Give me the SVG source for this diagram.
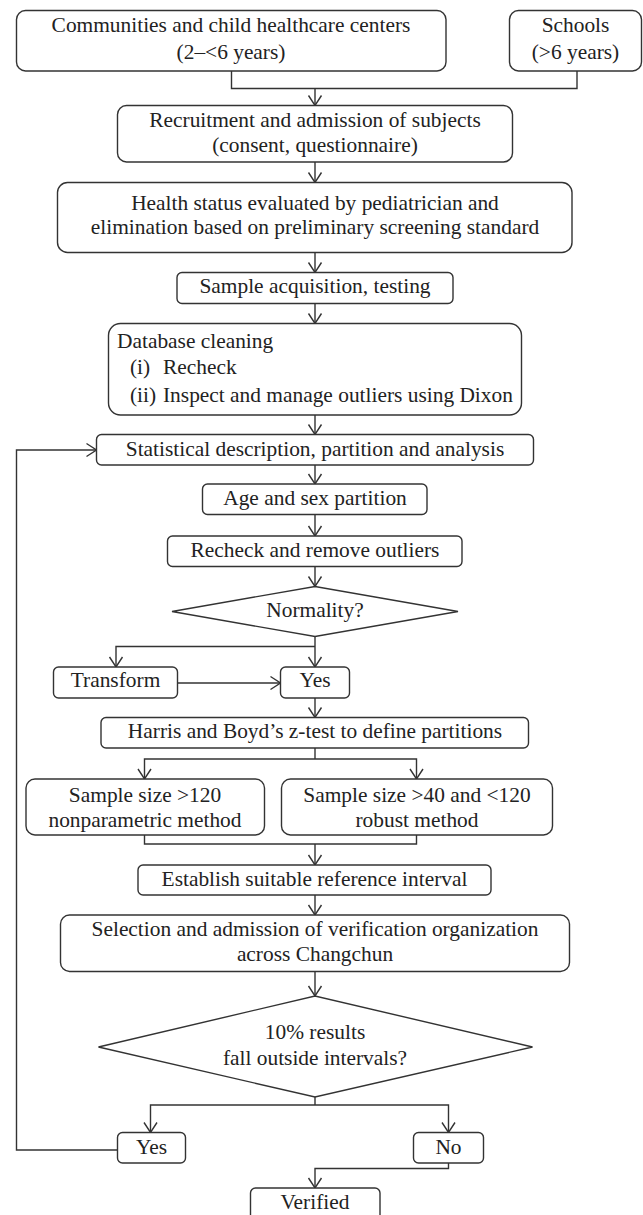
<svg xmlns="http://www.w3.org/2000/svg" width="643" height="1215" viewBox="0 0 643 1215">
<style>
  .box { fill: #ffffff; stroke: #333333; stroke-width: 1.4; }
  .ln { fill: none; stroke: #333333; stroke-width: 1.4; }
  .arr { marker-end: url(#ah); }
  text { font-family: "Liberation Serif", "Times New Roman", serif; font-size: 21.4px; fill: #222222; }
  .c { text-anchor: middle; }
</style>
<defs>
  <marker id="ah" markerUnits="userSpaceOnUse" markerWidth="14" markerHeight="16" viewBox="-11 -8 12 16" refX="0" refY="0" orient="auto" overflow="visible">
    <path d="M-10,-6.5 L0,0 L-10,6.5" fill="none" stroke="#333333" stroke-width="1.4"/>
  </marker>
</defs>
<rect width="643" height="1215" fill="#ffffff"/>

<g id="connectors">
  <path class="ln" d="M231.5,71 V88.5 H577 V71"/>
  <path class="ln arr" d="M315,88.5 V105.5"/>
  <path class="ln arr" d="M315,162 V182.5"/>
  <path class="ln arr" d="M315,252.5 V272.5"/>
  <path class="ln arr" d="M315,303.5 V323.5"/>
  <path class="ln arr" d="M315,415 V434.5"/>
  <path class="ln arr" d="M315,465 V484"/>
  <path class="ln arr" d="M315,514.5 V536"/>
  <path class="ln arr" d="M315,566.5 V586.5"/>
  <path class="ln arr" d="M315,636.5 V667"/>
  <path class="ln arr" d="M315,646.5 H116 V667"/>
  <path class="ln arr" d="M177.5,683 H280.5"/>
  <path class="ln arr" d="M315,698 V717.5"/>
  <path class="ln" d="M315,748 V759"/>
  <path class="ln arr" d="M315,759 H144.5 V779"/>
  <path class="ln arr" d="M315,759 H416.5 V779"/>
  <path class="ln" d="M144.5,835 V844 H416.5 V835"/>
  <path class="ln arr" d="M315,844 V865"/>
  <path class="ln arr" d="M315,895 V915"/>
  <path class="ln arr" d="M315,971.5 V996"/>
  <path class="ln" d="M315,1097 V1105"/>
  <path class="ln arr" d="M315,1105 H150.5 V1132.5"/>
  <path class="ln arr" d="M315,1105 H448.5 V1132.5"/>
  <path class="ln arr" d="M117.5,1150 H16.5 V450 H96.5"/>
  <path class="ln arr" d="M448.5,1163 V1168.5 H315 V1188"/>
</g>

<g id="n1">
  <rect class="box" x="16.5" y="10.5" width="429.5" height="60.5" rx="9"/>
  <text class="c" x="231" y="32">Communities and child healthcare centers</text>
  <text class="c" x="231" y="58.5">(2–&lt;6 years)</text>
</g>
<g id="n2">
  <rect class="box" x="509.5" y="10.5" width="132" height="60.5" rx="9"/>
  <text class="c" x="575.5" y="32">Schools</text>
  <text class="c" x="575.5" y="58.5">(&gt;6 years)</text>
</g>
<g id="n3">
  <rect class="box" x="117.5" y="105.5" width="395" height="56.5" rx="9"/>
  <text class="c" x="315" y="127">Recruitment and admission of subjects</text>
  <text class="c" x="315" y="152">(consent, questionnaire)</text>
</g>
<g id="n4">
  <rect class="box" x="57.5" y="182.5" width="514.5" height="70" rx="10"/>
  <text class="c" x="315" y="210">Health status evaluated by pediatrician and</text>
  <text class="c" x="315" y="234">elimination based on preliminary screening standard</text>
</g>
<g id="n5">
  <rect class="box" x="177" y="272.5" width="276" height="31" rx="5"/>
  <text class="c" x="315" y="293">Sample acquisition, testing</text>
</g>
<g id="n6">
  <rect class="box" x="108.5" y="323.5" width="413" height="91.5" rx="12"/>
  <text x="117" y="347.5">Database cleaning</text>
  <text x="130" y="374">(i)</text>
  <text x="163" y="374">Recheck</text>
  <text x="130" y="402">(ii)</text>
  <text x="163" y="402">Inspect and manage outliers using Dixon</text>
</g>
<g id="n7">
  <rect class="box" x="96.5" y="434.5" width="437" height="30.5" rx="5"/>
  <text class="c" x="315" y="455.5">Statistical description, partition and analysis</text>
</g>
<g id="n8">
  <rect class="box" x="202.5" y="484" width="224.5" height="30.5" rx="5"/>
  <text class="c" x="315" y="504.5">Age and sex partition</text>
</g>
<g id="n9">
  <rect class="box" x="167.5" y="536" width="294.5" height="30.5" rx="5"/>
  <text class="c" x="315" y="556.5">Recheck and remove outliers</text>
</g>
<g id="n10">
  <polygon class="box" points="172,611.5 315,586.5 458,611.5 315,636.5"/>
  <text class="c" x="315" y="617">Normality?</text>
</g>
<g id="n11">
  <rect class="box" x="53.5" y="667" width="124" height="31" rx="5"/>
  <text class="c" x="115.5" y="687">Transform</text>
</g>
<g id="n12">
  <rect class="box" x="280.5" y="667" width="69" height="31" rx="5"/>
  <text class="c" x="315" y="687">Yes</text>
</g>
<g id="n13">
  <rect class="box" x="101" y="717.5" width="427.5" height="30.5" rx="5"/>
  <text class="c" x="315" y="737.5">Harris and Boyd’s z-test to define partitions</text>
</g>
<g id="n14">
  <rect class="box" x="26" y="779" width="238.5" height="56" rx="9"/>
  <text class="c" x="145" y="802">Sample size &gt;120</text>
  <text class="c" x="145" y="827">nonparametric method</text>
</g>
<g id="n15">
  <rect class="box" x="281.5" y="779" width="271" height="56" rx="9"/>
  <text class="c" x="417" y="802">Sample size &gt;40 and &lt;120</text>
  <text class="c" x="417" y="827">robust method</text>
</g>
<g id="n16">
  <rect class="box" x="138" y="865" width="353" height="30" rx="5"/>
  <text class="c" x="314.5" y="886">Establish suitable reference interval</text>
</g>
<g id="n17">
  <rect class="box" x="60.5" y="915" width="509" height="56.5" rx="9"/>
  <text class="c" x="315" y="935.5">Selection and admission of verification organization</text>
  <text class="c" x="315" y="961">across Changchun</text>
</g>
<g id="n18">
  <polygon class="box" points="98.5,1047 315,996 532.5,1047 315,1097"/>
  <text class="c" x="315" y="1038.5">10% results</text>
  <text class="c" x="315" y="1065">fall outside intervals?</text>
</g>
<g id="n19">
  <rect class="box" x="117.5" y="1132.5" width="68" height="30.5" rx="5"/>
  <text class="c" x="151.5" y="1153.5">Yes</text>
</g>
<g id="n20">
  <rect class="box" x="413.5" y="1132.5" width="70" height="30.5" rx="5"/>
  <text class="c" x="448.5" y="1153.5">No</text>
</g>
<g id="n21">
  <rect class="box" x="250.5" y="1188" width="129.5" height="40" rx="5"/>
  <text class="c" x="315" y="1208.5">Verified</text>
</g>
</svg>
